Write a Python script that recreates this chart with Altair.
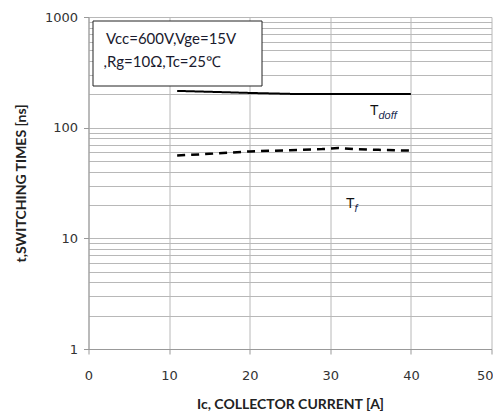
import altair as alt
import pandas as pd

# Data
tdoff_ic = [11, 15, 20, 25, 28, 32, 36, 40]
tdoff_t = [215, 211, 206, 202, 201, 201, 201, 201]
tf_ic = [11, 15, 20, 25, 29, 31, 33, 36, 40]
tf_t = [56, 58, 61, 62.5, 64, 65.5, 64, 63, 62]

x_ticks = [0, 10, 20, 30, 40, 50]
major_y = [1, 10, 100, 1000]
y_grid = [m * d for d in [1, 10, 100] for m in range(1, 10)] + [1000]

df = pd.concat([
    pd.DataFrame({"Ic": tdoff_ic, "t": tdoff_t, "series": "Tdoff"}),
    pd.DataFrame({"Ic": tf_ic, "t": tf_t, "series": "Tf"}),
])

GRID = "#b8b8b8"
FONT_T = "DejaVu Sans"
FONT_B = "Lato"

xenc = alt.X("Ic:Q",
    scale=alt.Scale(domain=[0, 50], nice=False, zero=False),
    axis=alt.Axis(values=x_ticks, grid=True, gridColor=GRID, domainColor="#999",
                  tickColor="#999", tickSize=5, labelPadding=15, labelFont=FONT_T,
                  labelFontSize=13, labelColor="#333", labelFlush=False,
                  labelAlign={"condition": {"test": "datum.value == 50", "value": "right"}, "value": "center"},
                  labelOffset={"condition": {"test": "datum.value == 50", "value": 1.5}, "value": 0},
                  title="Ic, COLLECTOR CURRENT [A]", titleFont=FONT_B,
                  titleFontSize=14, titleFontWeight="bold", titleColor="#222",
                  titleX=201.5, titleY=55, titleBaseline="middle", titleAlign="center"))

yenc = alt.Y("t:Q",
    scale=alt.Scale(type="log", domain=[1, 1000], nice=False),
    axis=alt.Axis(values=y_grid, grid=True, gridColor=GRID, domainColor="#999",
                  tickColor="#999",
                  tickSize={"condition": {"test": "indexof([1,10,100,1000], datum.value) >= 0", "value": 5}, "value": 0},
                  labelExpr="indexof([1,10,100,1000], datum.value) >= 0 ? format(datum.value, 'd') : ''",
                  labelPadding=6, labelFont=FONT_T, labelFontSize=13, labelColor="#333",
                  title="t,SWITCHING TIMES [ns]", titleFont=FONT_B, titleFontSize=14,
                  titleFontWeight="bold", titleColor="#222", titleAngle=270,
                  titleX=-67, titleY=166, titleBaseline="middle", titleAlign="center"))

lines = alt.Chart(df).mark_line(color="black").encode(
    x=xenc, y=yenc,
    strokeDash=alt.StrokeDash("series:N",
        scale=alt.Scale(domain=["Tdoff", "Tf"], range=[[1, 0], [8, 6]]), legend=None),
    strokeWidth=alt.StrokeWidth("series:N",
        scale=alt.Scale(domain=["Tdoff", "Tf"], range=[2, 2.5]), legend=None),
)

one = pd.DataFrame({"a": [0]})
box = alt.Chart(one).mark_rect(fill="white", stroke="#222", strokeWidth=1).encode(
    x=alt.value(4.5), x2=alt.value(173.5), y=alt.value(4), y2=alt.value(69))

def txt(s, x, y, size, italic=False, font=FONT_B, color="#1a1a2e"):
    return alt.Chart(one).mark_text(text=s, align="left", baseline="alphabetic",
        font=font, fontSize=size, fontStyle="italic" if italic else "normal",
        color=color).encode(x=alt.value(x), y=alt.value(y))

texts = [
    txt("Vcc=600V,Vge=15V", 17.5, 27, 15),
    txt(",Rg=10Ω,Tc=25℃", 15, 50, 15),
    txt("T", 281.5, 98, 14, font="Liberation Sans", color="#111"),
    txt("doff", 290, 102, 11, italic=True, font="Liberation Sans", color="#1a2a50"),
    txt("T", 257.5, 191, 14, font="Liberation Sans", color="#111"),
    txt("f", 266, 195, 11, italic=True, font="Liberation Sans", color="#1a2a50"),
]

chart = alt.layer(lines, box, *texts).properties(
    width=403, height=332,
    autosize=alt.AutoSizeParams(type="none"),
    padding={"left": 80.5, "top": 9, "right": 1.5, "bottom": 62},
).configure_view(stroke=None)

chart.save("out.html", embed_options={"renderer": "svg", "actions": False})
